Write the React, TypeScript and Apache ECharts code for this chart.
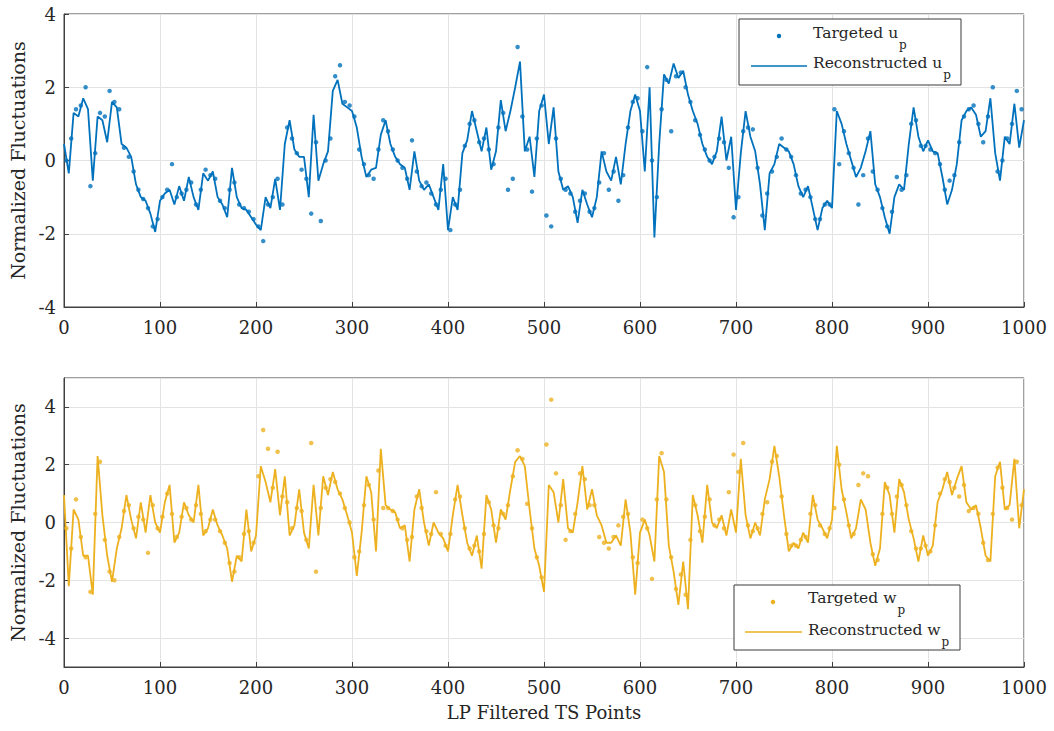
import React, { useEffect, useRef } from "react";
import * as echarts from "echarts";

// Sampling step of the time-series points
const X_STEP = 5;
const X_MAX = 1000;

// Upper panel: reconstructed u_p (x = 0, 5, ..., 1000)
const U_RECON = [
  0.45, -0.35, 1.3, 1.2, 1.7, 1.4, -0.55, 1.2, 1.1, 0.5,
  1.6, 1.45, 0.45, 0.35, 0.1, -0.65, -1.0, -1.1, -1.45, -1.95,
  -1.1, -0.9, -0.8, -1.2, -0.7, -1.1, -0.45, -1.0, -1.35, -0.35,
  -0.55, -0.3, -1.0, -1.2, -1.55, -0.2, -1.0, -1.3, -1.35, -1.55,
  -1.75, -1.9, -1.0, -1.3, -0.5, -1.35, 0.45, 1.1, 0.3, 0.1,
  0.1, -1.0, 1.25, -0.55, -0.1, 0.25, 1.9, 2.2, 1.55, 1.45,
  1.35, 0.9, 0.1, -0.45, -0.25, -0.2, 0.7, 1.1, 0.45, 0.1,
  -0.1, -0.2, -0.8, 0.25, -0.55, -0.8, -0.65, -1.0, -1.35, -0.1,
  -1.9, -1.0, -1.35, 0.2, 0.55, 1.35, 0.8, 0.25, 0.9, -0.25,
  0.25, 1.65, 0.8, 1.35, 2.0, 2.7, 0.25, 0.65, -0.45, 1.35,
  1.8, 0.45, 1.45, -0.3, -0.8, -0.7, -1.0, -1.7, -0.8, -1.2,
  -1.55, -1.0, 0.25, -0.3, -0.55, 0.1, -0.65, 0.45, 1.35, 1.8,
  1.35, -0.3, 2.0, -2.1, 0.45, 2.35, 2.1, 2.65, 2.25, 2.45,
  1.8, 1.35, 1.0, 0.45, 0.1, -0.1, 0.25, 1.2, 0.0, 0.65,
  -1.35, 0.2, 1.35, 0.65, 0.25, -0.65, -1.9, -0.35, -0.1, 0.45,
  0.35, 0.25, -0.1, -0.7, -1.0, -0.7, -1.3, -1.9, -1.3, -1.1,
  -1.3, 1.35, 1.0, 0.45, 0.0, -0.45, -0.2, 0.25, 0.8, -0.65,
  -1.0, -1.55, -2.0, -1.0, -0.65, -0.8, 0.45, 1.45, 0.65, 0.25,
  0.55, 0.25, 0.2, -0.45, -1.2, -0.8, -0.1, 1.1, 1.35, 1.45,
  1.25, 0.65, 0.8, 1.7, 0.2, -0.55, 0.65, 0.45, 1.55, 0.35,
  1.1,
];

// Upper panel: targeted u_p (x = 2.5, 7.5, ..., 997.5)
const U_TARGET = [
  0.0, 0.6, 1.4, 1.5, 2.0, -0.7, 0.2, 1.3, 1.2, 1.9,
  1.6, 1.4, 0.35, 0.1, -0.3, -0.8, -1.05, -1.3, -1.8, -1.6,
  -1.0, -0.8, -0.1, -1.0, -0.9, -0.8, -0.6, -1.2, -0.8, -0.25,
  -0.4, -0.5, -1.1, -1.3, -0.8, -0.6, -1.2, -1.3, -1.4, -1.6,
  -1.8, -2.2, -1.2, -1.0, -0.5, -1.2, 0.9, 0.6, 0.2, -0.25,
  -0.5, -1.45, 0.5, -1.65, 0.0, 0.6, 2.3, 2.6, 1.6, 1.5,
  1.2, 0.3, -0.1, -0.4, -0.5, 0.3, 1.1, 0.8, 0.3, 0.0,
  -0.2, -0.5, 0.55, -0.3, -0.7, -0.6, -0.9, -1.2, -0.8, -0.5,
  -1.9, -1.2, -0.8, 0.4, 1.0, 1.1, 0.5, 0.6, 0.3, -0.1,
  0.9, 1.3, -0.8, -0.5, 3.1, 1.2, 0.3, -0.85, 0.6, 1.5,
  -1.5, -1.8, 0.6, -0.5, -0.8, -0.9, -1.4, -1.1, -0.9, -1.4,
  -1.3, -0.6, 0.2, -0.8, -0.3, -1.1, -0.4, 0.9, 1.6, 1.7,
  0.8, 2.55, 0.0, -1.0, 1.4, 2.2, 0.8, 2.3, 2.4, 2.0,
  1.6, 1.1, 0.7, 0.3, 0.0, 0.1, 0.6, 0.5, -0.2, -1.55,
  -1.0, 0.8, 0.9, 0.85, -0.2, -1.5, -0.9, -0.3, 0.1, 0.6,
  0.3, 0.1, -0.4, -0.9, -0.8, -1.0, -1.6, -1.6, -1.2, -1.2,
  1.4, -0.1, 0.8, 0.2, -0.2, -1.2, -0.4, 0.6, -0.3, -0.8,
  -1.3, -1.8, -1.4, -0.45, -0.8, -0.4, 1.0, 1.1, 0.4, 0.4,
  0.3, 0.2, -0.1, -0.8, -0.55, -0.4, 0.5, 1.2, 1.4, 1.5,
  1.0, 0.5, 1.2, 2.0, -0.3, 0.0, 0.6, 1.0, 1.9, 1.4,
];

// Lower panel: reconstructed w_p (x = 0, 5, ..., 1000)
const W_RECON = [
  0.95, -2.2, 0.45, 0.1, -1.15, -1.15, -2.5, 2.3, 0.25, -1.15,
  -2.05, -0.9, -0.2, 0.95, 0.1, -0.55, 0.7, -0.35, 0.95, 0.0,
  -0.35, 0.7, 1.3, -0.7, -0.35, 0.7, 0.25, 0.0, 1.3, -0.45,
  -0.2, 0.45, -0.1, -0.45, -0.9, -2.05, -1.15, -1.35, 0.45, -1.0,
  -0.45, 1.95, 1.4, 0.7, 1.85, 0.25, 1.6, -0.45, -0.1, 1.15,
  -0.35, -0.9, 1.3, -0.45, 1.6, 0.95, 1.75, 1.15, 0.8, 0.25,
  -0.35, -1.85, -0.35, 1.6, 1.05, -1.0, 2.55, 0.6, 0.45, 0.35,
  -0.2, -0.1, -1.35, 0.45, 1.15, 0.0, -0.8, 0.0, -0.35, -0.55,
  -1.0, 0.25, 1.3, 0.25, -0.7, -1.15, -0.45, -1.6, 0.95, 0.45,
  -0.7, 0.45, 0.1, 1.15, 2.1, 2.3, 1.95, 0.45, -0.9, -1.5,
  -2.4, 1.3, 1.05, 0.0, 1.5, -0.2, -0.35, 0.7, 1.95, 0.45,
  1.15, 0.25, -0.1, -0.7, -0.7, -0.45, -0.8, 0.8, -0.35, -2.5,
  -0.35, 0.1, -0.45, -1.35, 2.3, 1.75, -0.8, -1.7, -2.85, -1.35,
  -3.0, 0.95, 0.25, -0.7, 1.3, 0.0, -0.2, 0.25, -0.45, 0.45,
  -0.35, 2.2, 0.25, -0.55, 0.0, -0.45, 0.8, 1.5, 2.65, 1.6,
  0.25, -1.0, -0.7, -0.9, -0.35, -0.7, 0.95, 0.1, -0.2, -0.55,
  0.1, 2.65, 1.15, 0.35, -0.55, -0.2, 0.8, 0.45, -0.7, -1.5,
  -0.9, 1.4, 0.95, -0.35, 1.5, 1.05, 0.1, -0.55, -1.35, -0.45,
  -1.15, -0.8, 0.7, 1.15, 1.75, 0.95, 1.5, 1.95, 0.7, 0.45,
  0.6, -0.2, -1.15, -1.35, 1.6, 2.1, 0.45, 0.6, 2.2, -0.2,
  1.15,
];

// Lower panel: targeted w_p (x = 2.5, 7.5, ..., 997.5)
const W_TARGET = [
  -0.2, -0.9, 0.8, -0.5, -1.2, -2.4, 0.3, 2.1, -0.6, -1.7,
  -2.0, -0.5, 0.4, 0.6, -0.2, 0.2, 0.1, -1.05, 0.6, -0.2,
  0.2, 1.0, 0.3, -0.5, 0.2, 0.5, 0.1, 0.6, 0.3, -0.3,
  0.1, 0.1, -0.3, -0.7, -1.4, -1.7, -1.2, -0.4, -0.3, -0.7,
  1.6, 3.2, 2.55, 1.2, 2.45, 0.9, 0.7, -0.2, 0.5, 0.4,
  -0.6, 2.75, -1.7, 0.5, 1.2, 1.5, 1.4, 1.0, 0.5, 0.0,
  -1.2, -1.0, 0.6, 1.3, 0.1, 1.8, 0.5, 0.5, 0.4, 0.1,
  -0.2, -0.6, -0.5, 0.9, 0.5, -0.3, -0.4, 1.05, -0.4, -0.8,
  -0.4, 0.8, 0.9, -0.2, -0.9, -0.8, -1.0, -0.4, 0.7, -0.1,
  -0.2, 0.3, 0.6, 1.6, 2.5, 2.2, 0.65, -0.2, -1.2, -1.9,
  2.7, 4.25, 1.7, 0.6, -0.6, -0.3, 0.3, 1.7, 1.5, 0.6,
  0.6, -0.5, -0.7, -0.9, -0.5, -0.1, 0.2, 0.3, -1.2, -1.4,
  0.1, -0.2, -1.95, 0.8, 2.4, 0.8, -1.2, -2.3, -1.8, -2.5,
  -0.6, 0.6, -0.3, 0.2, 0.8, -0.1, 0.1, -0.2, 1.05, 2.35,
  1.75, 2.75, -0.1, -0.3, -0.2, 0.3, 0.7, 2.1, 2.3, 0.9,
  -0.4, -0.8, -0.8, -0.6, -0.5, 0.3, 0.6, -0.1, -0.4, -0.2,
  0.5, 2.0, 0.8, -0.1, -0.4, 1.3, 1.7, 1.6, -1.1, -1.3,
  0.3, 1.2, 0.3, 0.9, 1.3, 0.6, -0.3, -0.9, -0.9, -0.8,
  -1.0, -0.1, 1.0, 1.5, 1.4, 1.2, 0.9, 1.3, 0.4, 0.5,
  0.3, -0.7, -1.3, 0.3, 1.9, 1.2, 0.5, 0.1, 2.1, 0.6,
];

const Y_LABEL = "Normalized Fluctuations";
const X_LABEL = "LP Filtered TS Points";

const BLUE = "#0072BD";
const YELLOW = "#EDB120";
const FONT = "DejaVu Serif";
const TEXT_COLOR = "#262626";
const AXIS_COLOR = "#404040";
const GRID_COLOR = "#e3e3e3";

const onGrid = (vals: number[]) => vals.map((v, i) => [i * X_STEP, v]);
const offGrid = (vals: number[]) => vals.map((v, i) => [i * X_STEP + X_STEP / 2, v]);

function xAxisCfg(gridIndex: number, withName: boolean) {
  return {
    type: "value",
    gridIndex,
    min: 0,
    max: X_MAX,
    interval: 100,
    name: withName ? X_LABEL : "",
    nameLocation: "middle",
    nameGap: 36,
    nameTextStyle: { fontFamily: FONT, fontSize: 18, color: TEXT_COLOR },
    axisLine: { show: true, onZero: false, lineStyle: { color: AXIS_COLOR, width: 1 } },
    axisTick: { show: true, inside: true, length: 5, lineStyle: { color: AXIS_COLOR } },
    axisLabel: {
      fontFamily: FONT,
      fontSize: 18,
      color: TEXT_COLOR,
      margin: 11,
      formatter: (v: number) => String(v),
    },
    splitLine: { show: true, lineStyle: { color: GRID_COLOR, width: 1 } },
  };
}

function yAxisCfg(gridIndex: number, min: number, max: number, interval?: number) {
  const cfg: any = {
    type: "value",
    gridIndex,
    min,
    max,
    name: Y_LABEL,
    nameLocation: "middle",
    nameGap: 33,
    nameTextStyle: { fontFamily: FONT, fontSize: 19, color: TEXT_COLOR },
    axisLine: { show: true, onZero: false, lineStyle: { color: AXIS_COLOR, width: 1 } },
    axisTick: { show: true, inside: true, length: 5, lineStyle: { color: AXIS_COLOR } },
    axisLabel: {
      fontFamily: FONT,
      fontSize: 18,
      color: TEXT_COLOR,
      margin: 8,
      formatter: (v: number) => String(v),
    },
    splitLine: { show: true, lineStyle: { color: GRID_COLOR, width: 1 } },
  };
  if (interval !== undefined) {
    cfg.interval = interval;
  } else {
    cfg.splitNumber = 5;
    cfg.axisLabel.showMinLabel = false;
    cfg.axisLabel.showMaxLabel = false;
  }
  return cfg;
}

const richLegend = {
  n: { fontFamily: FONT, fontSize: 15.5, fill: TEXT_COLOR },
  s: { fontFamily: FONT, fontSize: 12, fill: TEXT_COLOR, padding: [24, 0, 0, 1] },
};

function legendGraphic(
  box: { x: number; y: number; w: number; h: number },
  dot: { x: number; y: number },
  line: { x1: number; x2: number; y: number },
  textX: number,
  textY1: number,
  textY2: number,
  color: string,
  sym: string
) {
  return {
    type: "group",
    children: [
      {
        type: "rect",
        shape: { x: box.x, y: box.y, width: box.w, height: box.h },
        style: { fill: "#ffffff", stroke: "#3a3a3a", lineWidth: 1 },
        z: 100,
      },
      {
        type: "circle",
        shape: { cx: dot.x, cy: dot.y, r: 2.2 },
        style: { fill: color },
        z: 101,
      },
      {
        type: "line",
        shape: { x1: line.x1, y1: line.y, x2: line.x2, y2: line.y },
        style: { stroke: color, lineWidth: 1.7 },
        z: 101,
      },
      {
        type: "text",
        x: textX,
        y: textY1,
        style: {
          text: `{n|Targeted ${sym}}{s|p}`,
          rich: richLegend,
          align: "left",
          verticalAlign: "middle",
        },
        z: 101,
      },
      {
        type: "text",
        x: textX,
        y: textY2,
        style: {
          text: `{n|Reconstructed ${sym}}{s|p}`,
          rich: richLegend,
          align: "left",
          verticalAlign: "middle",
        },
        z: 101,
      },
    ],
  };
}

export default function App() {
  const ref = useRef<HTMLDivElement>(null);

  useEffect(() => {
    if (!ref.current) return;
    const chart = echarts.init(ref.current, undefined, { renderer: "svg" });
    const option: any = {
      animation: false,
      backgroundColor: "#ffffff",
      textStyle: { fontFamily: FONT },
      grid: [
        { left: 64, top: 14, width: 960, height: 293, show: true, borderColor: AXIS_COLOR, borderWidth: 1, backgroundColor: "transparent" },
        { left: 64, top: 378, width: 960, height: 289, show: true, borderColor: AXIS_COLOR, borderWidth: 1, backgroundColor: "transparent" },
      ],
      xAxis: [xAxisCfg(0, false), xAxisCfg(1, true)],
      yAxis: [yAxisCfg(0, -4, 4, 2), yAxisCfg(1, -5, 5)],
      series: [
        {
          name: "Targeted u_p",
          type: "scatter",
          xAxisIndex: 0,
          yAxisIndex: 0,
          data: offGrid(U_TARGET),
          symbol: "circle",
          symbolSize: 4.5,
          itemStyle: { color: BLUE },
        },
        {
          name: "Reconstructed u_p",
          type: "line",
          xAxisIndex: 0,
          yAxisIndex: 0,
          data: onGrid(U_RECON),
          showSymbol: false,
          lineStyle: { color: BLUE, width: 1.8 },
          itemStyle: { color: BLUE },
        },
        {
          name: "Targeted w_p",
          type: "scatter",
          xAxisIndex: 1,
          yAxisIndex: 1,
          data: offGrid(W_TARGET),
          symbol: "circle",
          symbolSize: 4.5,
          itemStyle: { color: YELLOW },
        },
        {
          name: "Reconstructed w_p",
          type: "line",
          xAxisIndex: 1,
          yAxisIndex: 1,
          data: onGrid(W_RECON),
          showSymbol: false,
          lineStyle: { color: YELLOW, width: 1.8 },
          itemStyle: { color: YELLOW },
        },
      ],
      graphic: [
        legendGraphic({ x: 739, y: 19, w: 222, h: 66 }, { x: 779, y: 36 }, { x1: 751, x2: 807, y: 66 }, 813, 33, 63, BLUE, "u"),
        legendGraphic({ x: 734, y: 585, w: 226, h: 65 }, { x: 773, y: 602 }, { x1: 745, x2: 802, y: 632 }, 808, 598, 630, YELLOW, "w"),
      ],
    };
    chart.setOption(option);
    return () => chart.dispose();
  }, []);

  return (
    <div
      ref={ref}
      style={{ position: "absolute", left: 0, top: 0, width: 1054, height: 731 }}
    />
  );
}
